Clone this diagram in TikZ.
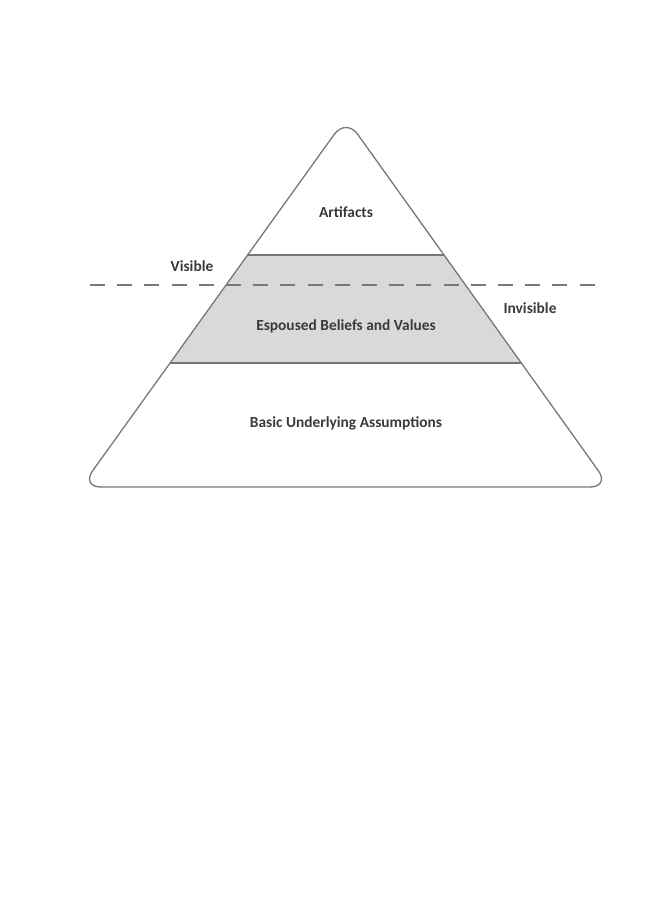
\documentclass[tikz,border=0pt]{standalone}
\usepackage{fontspec}
\setmainfont{Carlito}
\definecolor{edge}{HTML}{777777}
\definecolor{band}{HTML}{D9D9D9}
\definecolor{txt}{HTML}{3A3A3A}
\tikzset{
  outline/.style={draw=edge, line width=1.3pt},
  lbl/.style={text=txt, font=\fontsize{15.4}{18}\bfseries\selectfont, inner sep=0pt},
  sep/.style={draw=edge, line width=1.3pt, dash pattern=on 15pt off 12.2pt}
}
\begin{document}
\begin{tikzpicture}[x=1pt,y=-1pt]
\useasboundingbox (0,0) rectangle (667,920);
\coordinate (apex) at (346,118);
\coordinate (bl) at (81,487);
\coordinate (br) at (610,487);
\coordinate (l1) at (247.6,255);
\coordinate (r1) at (444.0,255);
\coordinate (l2) at (170.0,363);
\coordinate (r2) at (521.3,363);
\coordinate (dl) at (90,285);
\coordinate (dr) at (600,285);
\begin{scope}
  \clip (apex) -- (br) -- (bl) -- cycle;
  \fill[band] (0,255) rectangle (667,363);
\end{scope}
\draw[outline] (l1) -- (r1);
\draw[outline] (l2) -- (r2);
\draw[outline, rounded corners=20pt] (apex) -- (br) -- (bl) -- cycle;
\draw[sep] (dl) -- (dr);
\node[lbl] (art) at (346,212) {Artifacts};
\node[lbl] (vis) at (192,266) {Visible};
\node[lbl] (inv) at (530,308) {Invisible};
\node[lbl] (esp) at (346,326) {Espoused Beliefs and Values};
\node[lbl] (bas) at (346,423) {Basic Underlying Assumptions};
\end{tikzpicture}
\end{document}
